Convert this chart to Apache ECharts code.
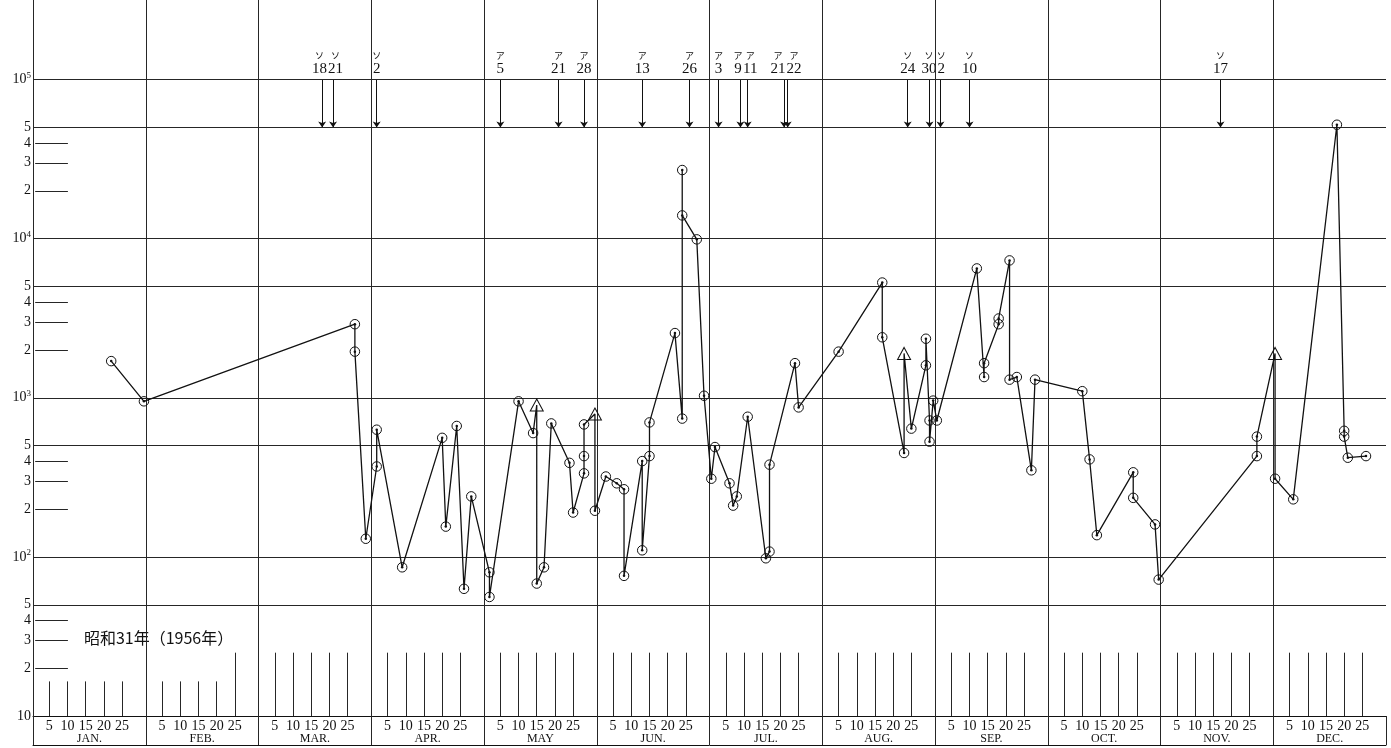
<!DOCTYPE html>
<html><head><meta charset="utf-8">
<script src="https://cdn.jsdelivr.net/npm/echarts@6/dist/echarts.min.js"></script>
<style>html,body{margin:0;padding:0;background:#fff}#c{width:1391px;height:748px}</style>
</head><body><div id="c"></div>
<script>
// ---------------- data ----------------
const monthNames = ['JAN.','FEB.','MAR.','APR.','MAY','JUN.','JUL.','AUG.','SEP.','OCT.','NOV.','DEC.'];
const dayTickLabels = [5,10,15,20,25];
const yTickValues = [10,20,30,40,50,100,200,300,400,500,1000,2000,3000,4000,5000,10000,20000,30000,40000,50000,100000];
const shortTickValues = [20,30,40,200,300,400,2000,3000,4000,20000,30000,40000];
const fullLineValues = [50,100,500,1000,5000,10000,50000,100000];
// measurements: [month, day, value, kind]  kind: 'o' circle, 't' triangle
const samples = [
 [1,22,1700,'o'],[1,31,950,'o'],
 [3,27,2900,'o'],[3,27,1950,'o'],[3,30,130,'o'],
 [4,2,370,'o'],[4,2,630,'o'],[4,9,86,'o'],[4,20,560,'o'],[4,21,155,'o'],[4,24,665,'o'],[4,26,63,'o'],[4,28,240,'o'],
 [5,2,80,'o'],[5,2,56,'o'],[5,10,950,'o'],[5,14,600,'o'],[5,15,900,'t'],[5,15,68,'o'],[5,17,86,'o'],[5,19,690,'o'],
 [5,24,390,'o'],[5,25,190,'o'],[5,28,335,'o'],[5,28,430,'o'],[5,28,680,'o'],[5,31,790,'t'],[5,31,195,'o'],
 [6,3,320,'o'],[6,6,290,'o'],[6,8,266,'o'],[6,8,76,'o'],[6,13,400,'o'],[6,13,110,'o'],[6,15,430,'o'],[6,15,700,'o'],
 [6,22,2550,'o'],[6,24,740,'o'],[6,24,27000,'o'],[6,24,14000,'o'],[6,28,9900,'o'],[6,30,1030,'o'],
 [7,1,310,'o'],[7,2,490,'o'],[7,6,290,'o'],[7,7,210,'o'],[7,8,240,'o'],[7,11,760,'o'],[7,16,98,'o'],[7,17,108,'o'],
 [7,17,380,'o'],[7,24,1650,'o'],[7,25,870,'o'],
 [8,5,1950,'o'],[8,17,5300,'o'],[8,17,2400,'o'],[8,23,450,'o'],[8,23,1900,'t'],[8,25,640,'o'],[8,29,1600,'o'],
 [8,29,2350,'o'],[8,30,720,'o'],[8,30,530,'o'],[8,31,960,'o'],
 [9,1,720,'o'],[9,12,6500,'o'],[9,14,1350,'o'],[9,14,1650,'o'],[9,18,2900,'o'],[9,18,3150,'o'],[9,21,7300,'o'],
 [9,21,1300,'o'],[9,23,1350,'o'],[9,27,350,'o'],[9,28,1300,'o'],
 [10,10,1100,'o'],[10,12,410,'o'],[10,14,137,'o'],[10,24,340,'o'],[10,24,235,'o'],[10,30,160,'o'],[10,31,72,'o'],
 [11,27,430,'o'],[11,27,570,'o'],
 [12,1,1900,'t'],[12,1,310,'o'],[12,6,230,'o'],[12,18,52000,'o'],[12,20,620,'o'],[12,20,570,'o'],[12,21,420,'o'],[12,26,430,'o']
];
// nuclear tests: [month, day, country]
const tests = [
 [3,18,'ソ'],[3,21,'ソ'],[4,2,'ソ'],[5,5,'ア'],[5,21,'ア'],[5,28,'ア'],[6,13,'ア'],[6,26,'ア'],
 [7,3,'ア'],[7,9,'ア'],[7,11,'ア'],[7,21,'ア'],[7,22,'ア'],[8,24,'ソ'],[8,30,'ソ'],[9,2,'ソ'],[9,10,'ソ'],[11,17,'ソ']
];
const arrowTop = 100000, arrowBottom = 50000;
// bottom period bars: top value per month at days 5,10,15,20,25
const barTops = [
 [16.5,16.5,16.5,16.5,16.5],
 [16.5,16.5,16.5,16.5,25],
 [25,25,25,25,25],[25,25,25,25,25],[25,25,25,25,25],[25,25,25,25,25],[25,25,25,25,25],
 [25,25,25,25,25],[25,25,25,25,25],[25,25,25,25,25],[25,25,25,25,25],[25,25,25,25,25]
];
const yearText = '昭和31年（1956年）';

// ---------------- build ----------------
const yMin = 10, yMax = Math.pow(10, 5.5);
const xOf = (m, d) => (m - 1) * 31 + d - 0.5;
const ink = '#111', gridInk = '#262626';
const serif = "'Liberation Serif','DejaVu Serif',serif";
const jp = "'Noto Sans CJK JP','Noto Sans',sans-serif";

const monthBounds = []; for (let m = 0; m <= 12; m++) monthBounds.push(m * 31);
const dayLabelPos = []; for (let m = 1; m <= 12; m++) dayTickLabels.forEach(d => dayLabelPos.push(xOf(m, d)));
const monthCenters = monthNames.map((_, i) => i * 31 + 15.5);

const lineData = samples.map(([m, d, v, k]) => {
  const it = { value: [xOf(m, d), v] };
  if (k === 't') { it.symbol = 'triangle'; it.symbolSize = [13, 12]; }
  return it;
});
const dotData = samples.filter(s => s[3] === 'o').map(([m, d, v]) => [xOf(m, d), v]);

// label offsets for crowded test annotations
const pxPerUnit = 1353 / 372;
const tpos = tests.map(([m, d]) => xOf(m, d) * pxPerUnit);
const tw = tests.map(([m, d]) => String(d).length * 7.5 + 1);
const toff = tests.map(() => 0);
for (let it = 0; it < 20; it++) {
  for (let i = 0; i < tests.length - 1; i++) {
    const a = tpos[i] + toff[i], b = tpos[i + 1] + toff[i + 1];
    const need = (tw[i] + tw[i + 1]) / 2;
    if (b - a < need) { const s = (need - (b - a)) / 2; toff[i] -= s; toff[i + 1] += s; }
  }
}
const testLabelData = tests.map(([m, d, c], i) => ({
  value: [xOf(m, d), arrowTop, c, d],
  label: { offset: [toff[i], 0] }
}));
const arrowData = tests.map(([m, d]) => ({ coords: [[xOf(m, d), arrowTop], [xOf(m, d), arrowBottom]] }));

const shortTickData = shortTickValues.map(v => ({ coords: [[0.6, v], [9.6, v]] }));
const barData = [];
barTops.forEach((row, mi) => row.forEach((top, di) => {
  const x = xOf(mi + 1, dayTickLabels[di]);
  barData.push({ coords: [[x, yMin], [x, top]] });
}));

const yLabelData = yTickValues.map(v => [0, v]);
const fmtY = v => {
  const e = Math.floor(Math.log10(v) + 1e-9);
  const mant = Math.round(v / Math.pow(10, e));
  if (mant === 1) return e === 1 ? '{b|10}' : '{b|10}{e|' + e + '}';
  return '{b|' + mant + '}';
};
const solid = { opacity: 1 };

const chart = echarts.init(document.getElementById('c'));
chart.setOption({
  animation: false,
  backgroundColor: '#fff',
  grid: { left: 33, right: 5, top: 0, bottom: 32, containLabel: false },
  xAxis: [
    { type: 'value', min: 0, max: 372, position: 'bottom',
      axisLine: { show: true, lineStyle: { color: ink, width: 1 } },
      axisTick: { show: true, customValues: monthBounds, length: 29, inside: false, lineStyle: { color: gridInk } },
      axisLabel: { show: true, customValues: dayLabelPos, formatter: v => String(Math.round(v % 31 + 0.5)),
        margin: 3, fontFamily: serif, fontSize: 14, color: ink },
      splitLine: { show: false } },
    { type: 'value', min: 0, max: 372, position: 'bottom',
      axisLine: { show: false }, axisTick: { show: false },
      axisLabel: { show: true, customValues: monthCenters, formatter: v => monthNames[Math.floor(v / 31)],
        margin: 17, fontFamily: serif, fontSize: 12, color: ink },
      splitLine: { show: false } },
    { type: 'value', min: 0, max: 372, position: 'bottom', offset: 29,
      axisLine: { show: true, lineStyle: { color: ink } }, axisTick: { show: false },
      axisLabel: { show: false }, splitLine: { show: false } }
  ],
  yAxis: [
    { type: 'log', logBase: 10, min: yMin, max: yMax, position: 'left',
      axisLine: { show: true, lineStyle: { color: gridInk } }, axisTick: { show: false },
      axisLabel: { show: false }, splitLine: { show: false } },
    { type: 'log', logBase: 10, min: yMin, max: yMax, position: 'right',
      axisLine: { show: true, lineStyle: { color: gridInk } }, axisTick: { show: false },
      axisLabel: { show: false }, splitLine: { show: false } }
  ],
  series: [
    { type: 'lines', coordinateSystem: 'cartesian2d', silent: true, z: 1,
      lineStyle: { color: gridInk, width: 1, opacity: 1 }, data: shortTickData },
    { type: 'lines', coordinateSystem: 'cartesian2d', silent: true, z: 1,
      lineStyle: { color: gridInk, width: 1, opacity: 1 }, data: barData },
    { type: 'lines', coordinateSystem: 'cartesian2d', silent: true, z: 3,
      symbol: ['none', 'arrow'], symbolSize: 6,
      lineStyle: { color: ink, width: 1, opacity: 1 }, data: arrowData },
    { type: 'scatter', silent: true, symbolSize: 0, z: 4, data: testLabelData, itemStyle: solid,
      label: { show: true, position: 'top', distance: 3, opacity: 1,
        formatter: p => '{k|' + p.value[2] + '}\n{n|' + p.value[3] + '}',
        rich: {
          k: { fontFamily: jp, fontSize: 9, lineHeight: 12, color: ink, align: 'center', opacity: 1 },
          n: { fontFamily: serif, fontSize: 15, lineHeight: 15, color: ink, align: 'center', opacity: 1 }
        } } },
    { type: 'scatter', silent: true, symbolSize: 0, z: 4, data: yLabelData, itemStyle: solid,
      label: { show: true, position: 'left', distance: 2, opacity: 1,
        formatter: p => fmtY(p.value[1]),
        rich: {
          b: { fontFamily: serif, fontSize: 14, color: ink, opacity: 1 },
          e: { fontFamily: serif, fontSize: 9, color: ink, padding: [0, 0, 8, 0], opacity: 1 }
        } } },
    { type: 'scatter', silent: true, symbolSize: 0, z: 4, data: [[14, 31]], itemStyle: solid,
      label: { show: true, position: 'right', distance: 0, formatter: yearText, opacity: 1,
        fontFamily: jp, fontSize: 16, color: ink } },
    { type: 'line', silent: true, z: 5, data: lineData,
      symbol: 'circle', symbolSize: 9.5, showAllSymbol: true,
      lineStyle: { color: ink, width: 1.3 },
      itemStyle: { color: 'rgba(255,255,255,0)', borderColor: ink, borderWidth: 1, opacity: 1 },
      markLine: { silent: true, symbol: ['none', 'none'], label: { show: false },
        lineStyle: { type: 'solid', color: gridInk, width: 1 },
        data: fullLineValues.map(v => ({ yAxis: v })).concat(monthBounds.slice(1, 12).map(x => ({ xAxis: x }))) } },
    { type: 'scatter', silent: true, z: 6, data: dotData, symbolSize: 2.5,
      itemStyle: { color: ink, opacity: 1 } }
  ]
});
</script>
</body></html>
